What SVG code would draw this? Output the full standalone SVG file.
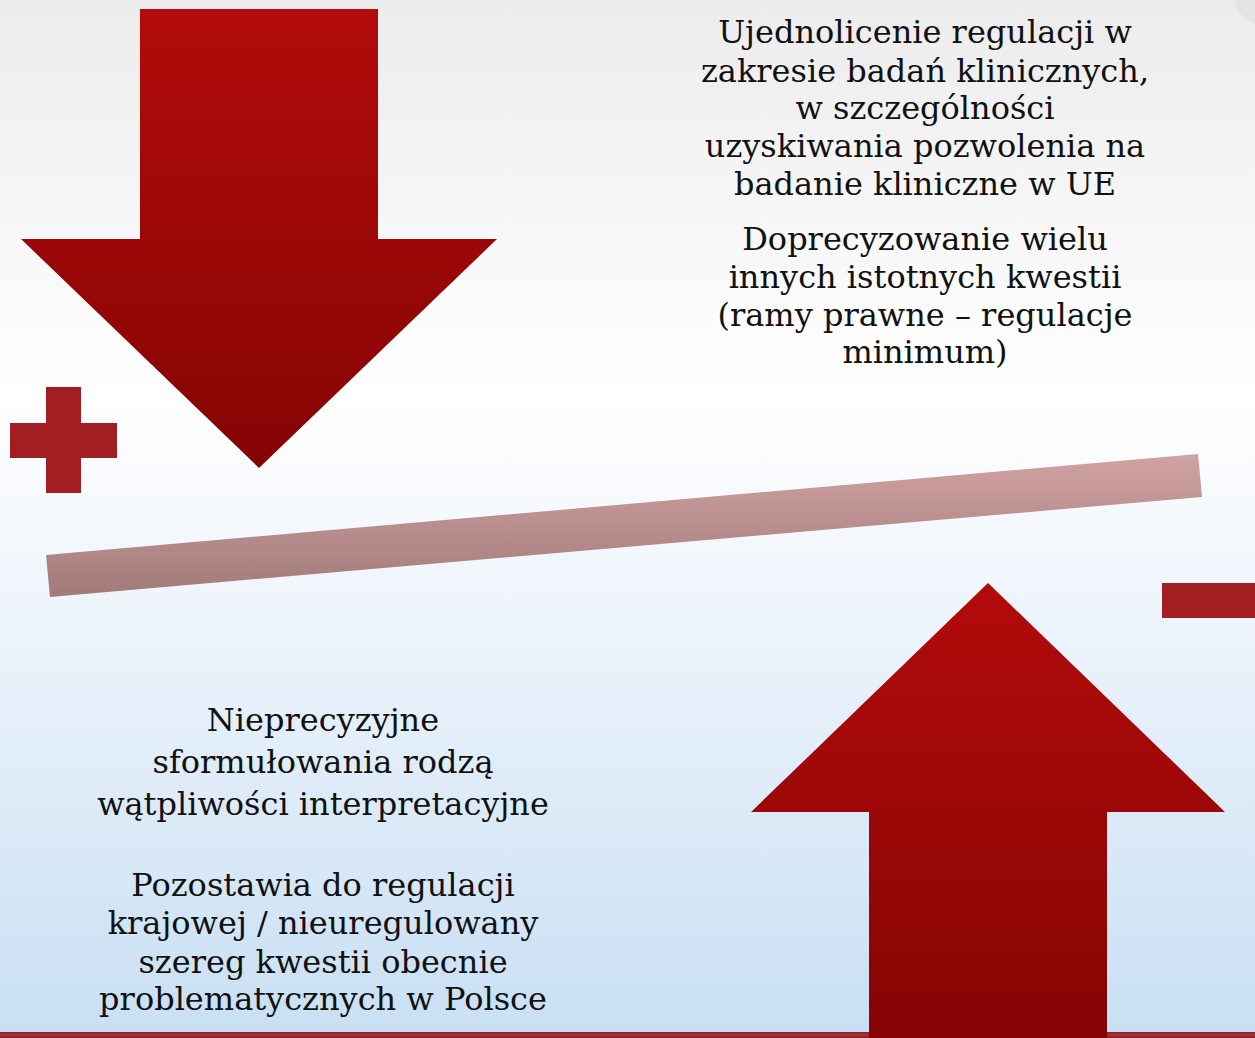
<svg xmlns="http://www.w3.org/2000/svg" width="1255" height="1038" viewBox="0 0 1255 1038">
<defs>
<linearGradient id="bg" x1="0" y1="0" x2="0" y2="1">
<stop offset="0" stop-color="#ececec"/>
<stop offset="0.38" stop-color="#ffffff"/>
<stop offset="0.6" stop-color="#edf4fb"/>
<stop offset="1" stop-color="#c8dff3"/>
</linearGradient>
<linearGradient id="arrowGrad" x1="0" y1="0" x2="0" y2="1">
<stop offset="0" stop-color="#b30b0b"/>
<stop offset="1" stop-color="#850404"/>
</linearGradient>
<linearGradient id="beamGrad" x1="0" y1="0" x2="0" y2="1">
<stop offset="0" stop-color="#d1a2a2"/>
<stop offset="1" stop-color="#a27a7a"/>
</linearGradient>
<linearGradient id="footGrad" x1="0" y1="0" x2="0" y2="1">
<stop offset="0" stop-color="#8c1820"/>
<stop offset="0.5" stop-color="#a8343c"/>
<stop offset="1" stop-color="#8c1820"/>
</linearGradient>
</defs>
<style>
.t { font-family: "DejaVu Serif", "Liberation Serif", serif; fill: #111111; text-anchor: middle; font-size: 32px; }
.sign { fill: #a11e22; }
</style>
<rect x="0" y="0" width="1255" height="1038" fill="url(#bg)"/>
<circle cx="1265" cy="-5" r="31" fill="#e3e4e4"/>
<rect x="0" y="1032" width="1255" height="6" fill="url(#footGrad)"/>

<g id="beam">
<polygon points="46,555 1198,454 1202,497 50,597" fill="url(#beamGrad)"/>
</g>

<g id="arrow-down">
<polygon points="140,9 378,9 378,239 497,239 259,468 21,239 140,239" fill="url(#arrowGrad)"/>
</g>

<g id="arrow-up">
<polygon points="988,583 1225,812 1107,812 1107,1038 869,1038 869,812 751,812" fill="url(#arrowGrad)"/>
</g>

<g id="plus">
<rect class="sign" x="46" y="387" width="35" height="106"/>
<rect class="sign" x="10" y="423" width="107" height="35"/>
</g>

<g id="minus">
<rect class="sign" x="1162" y="583" width="93" height="35"/>
</g>

<g id="text-top" class="t">
<text x="925" y="43">Ujednolicenie regulacji w</text>
<text x="925" y="82">zakresie badań klinicznych,</text>
<text x="925" y="119">w szczególności</text>
<text x="925" y="157">uzyskiwania pozwolenia na</text>
<text x="925" y="195">badanie kliniczne w UE</text>
<text x="925" y="250">Doprecyzowanie wielu</text>
<text x="925" y="288">innych istotnych kwestii</text>
<text x="925" y="326">(ramy prawne – regulacje</text>
<text x="925" y="363">minimum)</text>
</g>

<g id="text-bottom" class="t">
<text x="323" y="731">Nieprecyzyjne</text>
<text x="323" y="773">sformułowania rodzą</text>
<text x="323" y="815">wątpliwości interpretacyjne</text>
<text x="323" y="896">Pozostawia do regulacji</text>
<text x="323" y="934">krajowej / nieuregulowany</text>
<text x="323" y="973">szereg kwestii obecnie</text>
<text x="323" y="1010">problematycznych w Polsce</text>
</g>
</svg>
